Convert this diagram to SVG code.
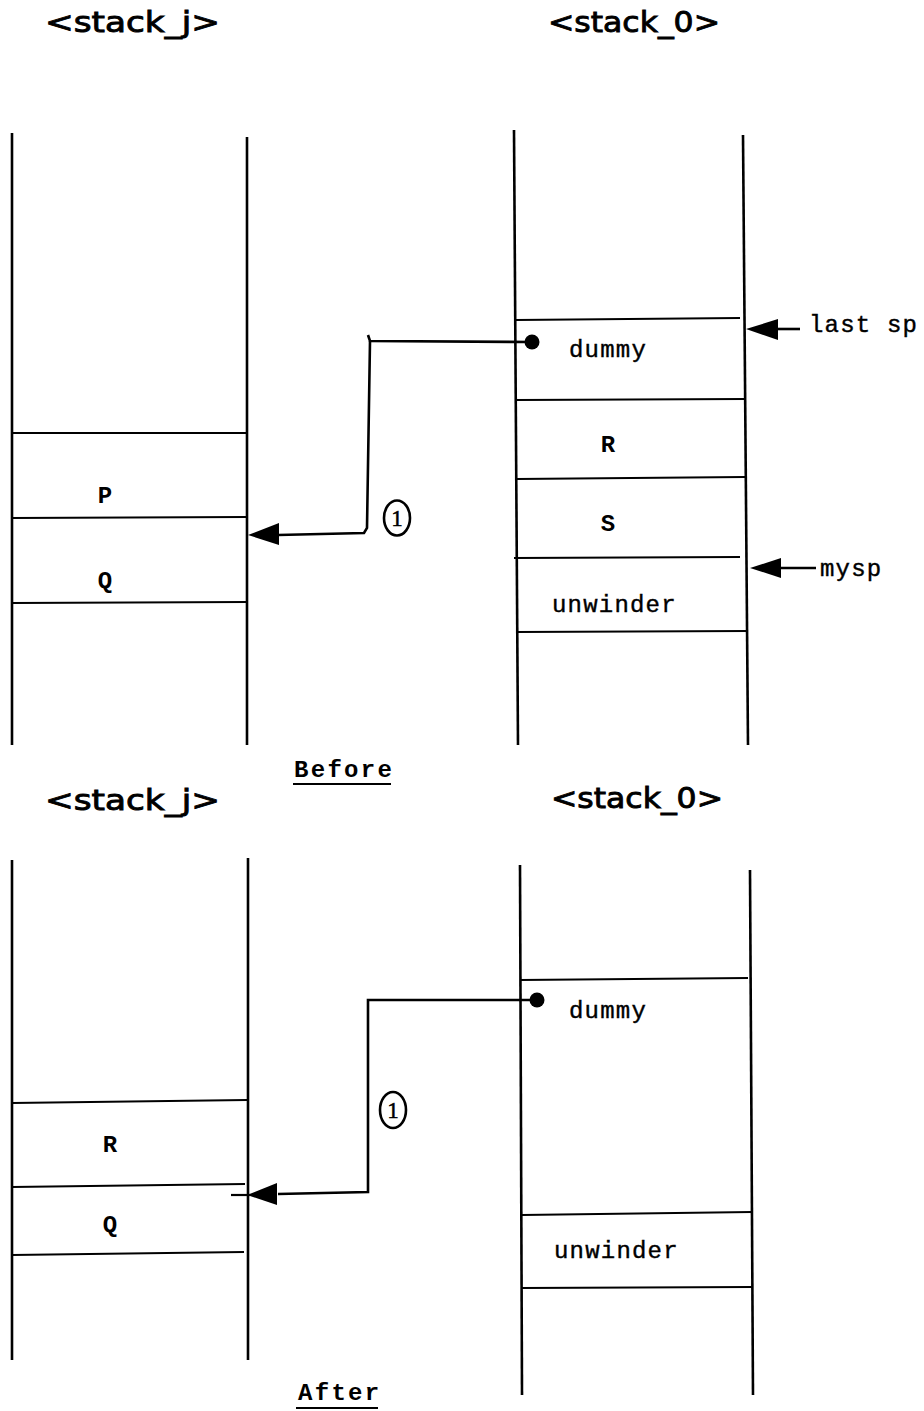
<svg xmlns="http://www.w3.org/2000/svg" width="924" height="1411" viewBox="0 0 924 1411">
<defs>
<style>
.v{stroke:#000;stroke-width:2.6;fill:none}
.h{stroke:#000;stroke-width:2.2;fill:none}
.c{stroke:#000;stroke-width:2.6;fill:none}
.hd{font-family:"DejaVu Sans","Liberation Sans",sans-serif;font-size:29px;fill:#000;stroke:#000;stroke-width:0.9px}
.t{font-family:"Liberation Mono","Courier New",monospace;font-size:24px;fill:#000;letter-spacing:1.2px;stroke:#000;stroke-width:0.4px}
.tb{font-family:"Liberation Mono","Courier New",monospace;font-size:24px;font-weight:bold;fill:#000}
.n{font-family:"Liberation Serif",serif;font-size:23px;fill:#000;stroke:#000;stroke-width:0.5px}
</style>
</defs>
<rect width="924" height="1411" fill="#fff"/>

<g id="before-titles">
<text class="hd" x="45" y="32" textLength="175" lengthAdjust="spacingAndGlyphs">&lt;stack_j&gt;</text>
<text class="hd" x="548" y="32" textLength="172" lengthAdjust="spacingAndGlyphs">&lt;stack_0&gt;</text>
</g>

<g id="before-stack-j">
<line class="v" x1="12" y1="133" x2="12" y2="745"/>
<line class="v" x1="247" y1="137" x2="247" y2="745"/>
<line class="h" x1="12" y1="433" x2="247" y2="433"/>
<line class="h" x1="12" y1="518" x2="247" y2="517"/>
<line class="h" x1="12" y1="603" x2="247" y2="602"/>
<text class="tb" x="105" y="503" text-anchor="middle">P</text>
<text class="tb" x="105" y="588" text-anchor="middle">Q</text>
</g>

<g id="before-stack-0">
<line class="v" x1="514" y1="130" x2="518" y2="745"/>
<line class="v" x1="743" y1="135" x2="748" y2="745"/>
<line class="h" x1="516" y1="320" x2="740" y2="318"/>
<line class="h" x1="517" y1="400" x2="745" y2="399"/>
<line class="h" x1="517" y1="479" x2="745" y2="477"/>
<line class="h" x1="514" y1="558" x2="740" y2="557"/>
<line class="h" x1="517" y1="632" x2="748" y2="631"/>
<text class="t" x="569" y="357">dummy</text>
<text class="tb" x="608" y="452" text-anchor="middle">R</text>
<text class="tb" x="608" y="531" text-anchor="middle">S</text>
<text class="t" x="552" y="612">unwinder</text>
</g>

<g id="before-pointers">
<text class="t" x="809" y="332">last sp</text>
<text class="t" x="820" y="576">mysp</text>
</g>

<g id="before-label">
<text class="tb" x="294" y="777" font-size="23" letter-spacing="2.3">Before</text>
<line class="h" x1="293" y1="784" x2="391" y2="784"/>
</g>

<g id="after-titles">
<text class="hd" x="45" y="810" textLength="175" lengthAdjust="spacingAndGlyphs">&lt;stack_j&gt;</text>
<text class="hd" x="551" y="808" textLength="172" lengthAdjust="spacingAndGlyphs">&lt;stack_0&gt;</text>
</g>

<g id="after-stack-j">
<line class="v" x1="12" y1="860" x2="12" y2="1360"/>
<line class="v" x1="248" y1="858" x2="248" y2="1360"/>
<line class="h" x1="12" y1="1103" x2="247" y2="1100"/>
<line class="h" x1="12" y1="1187" x2="245" y2="1184"/>
<line class="h" x1="12" y1="1255" x2="244" y2="1252"/>
<text class="tb" x="110" y="1152" text-anchor="middle">R</text>
<text class="tb" x="110" y="1232" text-anchor="middle">Q</text>
</g>

<g id="after-stack-0">
<line class="v" x1="520" y1="865" x2="522" y2="1395"/>
<line class="v" x1="750" y1="870" x2="753" y2="1395"/>
<line class="h" x1="520" y1="980" x2="748" y2="978"/>
<line class="h" x1="522" y1="1215" x2="752" y2="1212"/>
<line class="h" x1="522" y1="1288" x2="752" y2="1287"/>
<text class="t" x="569" y="1018">dummy</text>
<text class="t" x="554" y="1258">unwinder</text>
</g>

<g id="after-label">
<text class="tb" x="298" y="1400" font-size="23" letter-spacing="2.3">After</text>
<line class="h" x1="296" y1="1408" x2="378" y2="1408"/>
</g>

<g id="connectors">
<circle cx="532" cy="342" r="7.5" fill="#000"/>
<polyline class="c" points="532,342 370,341 368,335"/>
<polyline class="c" points="370,341 367,528 364,533 278,535"/>
<path d="M248,535 L279,523 L279,545 Z" fill="#000"/>
<ellipse cx="397" cy="518" rx="13" ry="17.5" fill="none" stroke="#000" stroke-width="2.6"/>
<text class="n" x="397" y="526" text-anchor="middle">1</text>
<line class="c" x1="775" y1="329" x2="800" y2="329"/>
<path d="M746,329 L778,319 L778,340 Z" fill="#000"/>
<line class="c" x1="779" y1="568" x2="816" y2="568"/>
<path d="M750,568 L781,558 L781,578 Z" fill="#000"/>
<circle cx="537" cy="1000" r="7.5" fill="#000"/>
<polyline class="c" points="537,1000 368,1000 368,1192 278,1194"/>
<line class="h" x1="231" y1="1195" x2="250" y2="1195"/>
<path d="M247,1195 L277,1183 L277,1205 Z" fill="#000"/>
<ellipse cx="393" cy="1110" rx="13" ry="18" fill="none" stroke="#000" stroke-width="2.6"/>
<text class="n" x="393" y="1118" text-anchor="middle">1</text>
</g>
</svg>
